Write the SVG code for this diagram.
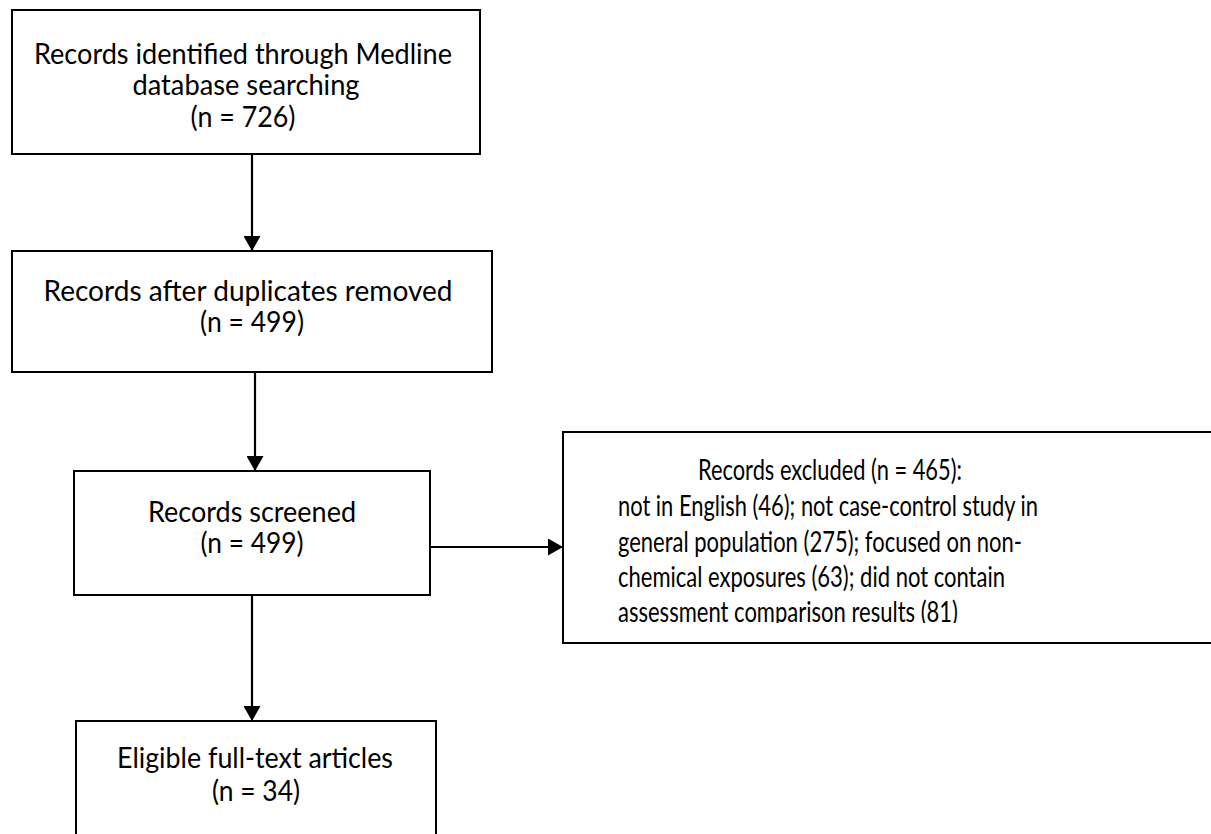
<svg xmlns="http://www.w3.org/2000/svg" width="1211" height="834" viewBox="0 0 1211 834">
  <style>
    .box { fill: #ffffff; stroke: #000000; stroke-width: 2; }
    .t { font-family: Lato, "Liberation Sans", sans-serif; font-size: 28px; fill: #000000; }
    .c { text-anchor: middle; }
    .conn { stroke: #000000; stroke-width: 2.2; fill: none; marker-end: url(#ah); }
  </style>
  <defs>
    <marker id="ah" markerUnits="userSpaceOnUse" markerWidth="17" markerHeight="17" viewBox="0 0 15 17" refX="15" refY="8.5" orient="auto">
      <path d="M0,0 L15,8.5 L0,17 Z" fill="#000000"/>
    </marker>
    <clipPath id="exclip">
      <rect x="563" y="432" width="660" height="191"/>
    </clipPath>
  </defs>
  <rect x="0" y="0" width="1211" height="834" fill="#ffffff"/>

  <g id="connectors">
    <line class="conn" x1="252" y1="155" x2="252" y2="251"/>
    <line class="conn" x1="255" y1="372" x2="255" y2="471"/>
    <line class="conn" x1="430" y1="547" x2="563" y2="547"/>
    <line class="conn" x1="252" y1="596" x2="252" y2="721"/>
  </g>

  <g id="identified">
    <rect class="box" x="12" y="10" width="468" height="144"/>
    <text class="t c" x="243" y="64" textLength="418" lengthAdjust="spacingAndGlyphs">Records identified through Medline</text>
    <text class="t c" x="246" y="95" textLength="227" lengthAdjust="spacingAndGlyphs">database searching</text>
    <text class="t c" x="243" y="127" textLength="105" lengthAdjust="spacingAndGlyphs">(n = 726)</text>
  </g>

  <g id="deduplicated">
    <rect class="box" x="12" y="251" width="480" height="121"/>
    <text class="t c" x="248" y="301" textLength="409" lengthAdjust="spacingAndGlyphs">Records after duplicates removed</text>
    <text class="t c" x="252" y="332" textLength="104" lengthAdjust="spacingAndGlyphs">(n = 499)</text>
  </g>

  <g id="screened">
    <rect class="box" x="74" y="471" width="356" height="124"/>
    <text class="t c" x="252" y="522" textLength="208" lengthAdjust="spacingAndGlyphs">Records screened</text>
    <text class="t c" x="252" y="553" textLength="103" lengthAdjust="spacingAndGlyphs">(n = 499)</text>
  </g>

  <g id="excluded">
    <rect class="box" x="563" y="432" width="660" height="211"/>
    <g clip-path="url(#exclip)">
      <text class="t c" x="830" y="480" textLength="264" lengthAdjust="spacingAndGlyphs">Records excluded (n = 465):</text>
      <text class="t" x="618" y="516" textLength="420" lengthAdjust="spacingAndGlyphs">not in English (46); not case-control study in</text>
      <text class="t" x="618" y="552" textLength="404" lengthAdjust="spacingAndGlyphs">general population (275); focused on non-</text>
      <text class="t" x="618" y="587" textLength="387" lengthAdjust="spacingAndGlyphs">chemical exposures (63); did not contain</text>
      <text class="t" x="618" y="622" textLength="340" lengthAdjust="spacingAndGlyphs">assessment comparison results (81)</text>
    </g>
  </g>

  <g id="eligible">
    <rect class="box" x="76" y="721" width="360" height="130"/>
    <text class="t c" x="255" y="768" textLength="276" lengthAdjust="spacingAndGlyphs">Eligible full-text articles</text>
    <text class="t c" x="256" y="801" textLength="88" lengthAdjust="spacingAndGlyphs">(n = 34)</text>
  </g>
</svg>
